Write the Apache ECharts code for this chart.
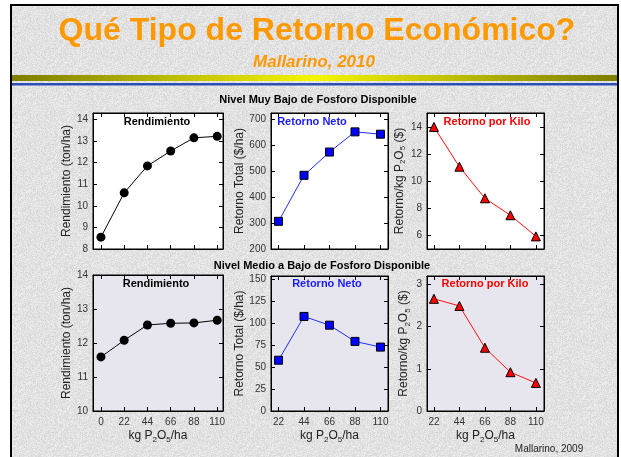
<!DOCTYPE html>
<html>
<head>
<meta charset="utf-8">
<script src="https://cdn.jsdelivr.net/npm/echarts@6/dist/echarts.min.js"></script>
<style>
  html, body { margin: 0; padding: 0; background: #ffffff; }
  #chart { width: 621px; height: 457px; }
</style>
</head>
<body>
<div id="chart"></div>
<script>
// P2O5 rates (kg/ha)
const yieldRates = [0, 22, 44, 66, 88, 110];
const returnRates = [22, 44, 66, 88, 110];

// Very low available P
const yieldVeryLow = [8.55, 10.6, 11.85, 12.54, 13.15, 13.22];
const netVeryLow = [307, 485, 575, 653, 644];
const perKgVeryLow = [14.0, 11.07, 8.74, 7.49, 5.93];

// Medium to low available P
const yieldMedLow = [11.59, 12.08, 12.53, 12.58, 12.59, 12.67];
const netMedLow = [58, 108, 98, 79.5, 73];
const perKgMedLow = [2.66, 2.49, 1.50, 0.92, 0.665];

// Tick labels
const yieldRateTicks = [0, 22, 44, 66, 88, 110];
const returnRateTicks = [22, 44, 66, 88, 110];
const yieldTicksTop = [8, 9, 10, 11, 12, 13, 14];
const netTicksTop = [200, 300, 400, 500, 600, 700];
const perKgTicksTop = [6, 8, 10, 12, 14];
const yieldTicksBottom = [10, 11, 12, 13, 14];
const netTicksBottom = [0, 25, 50, 75, 100, 125, 150];
const perKgTicksBottom = [0, 1, 2, 3];

const FONT = '"Liberation Sans", Arial, Helvetica, sans-serif';
const subRich = {
  n: { fontFamily: FONT, fontSize: 12, color: '#222', lineHeight: 14 },
  s: { fontFamily: FONT, fontSize: 8, color: '#222', lineHeight: 14, padding: [7, 0, 0, 0] }
};

// Speckled granite fill for the slide background (deterministic hash noise)
function granitePattern() {
  const size = 96;
  const c = document.createElement('canvas');
  c.width = size; c.height = size;
  const ctx = c.getContext('2d');
  const img = ctx.createImageData(size, size);
  for (let y = 0; y < size; y++) {
    for (let x = 0; x < size; x++) {
      let h = (x * 374761393 + y * 668265263) | 0;
      h = Math.imul(h ^ (h >>> 13), 1274126177);
      h = (h ^ (h >>> 16)) >>> 0;
      const v = 226 + ((h % 25) - 12);
      const k = (y * size + x) * 4;
      img.data[k] = v; img.data[k + 1] = v; img.data[k + 2] = v; img.data[k + 3] = 255;
    }
  }
  ctx.putImageData(img, 0, 0);
  return c;
}

// panel layout and scales
const panels = [
  { box: [93, 113, 130, 136], bg: '#ffffff', x: [-7.5, 115.5], xt: yieldRateTicks, xl: false,
    y: [8, 14.3], yt: yieldTicksTop, name: 'Rendimiento (ton/ha)', gap: 16 },
  { box: [271, 113, 117, 136], bg: '#ffffff', x: [15.5, 116.5], xt: returnRateTicks, xl: false,
    y: [200, 726], yt: netTicksTop, name: 'Retorno Total ($/ha)', gap: 22 },
  { box: [427, 113, 117, 136], bg: '#ffffff', x: [16, 117], xt: returnRateTicks, xl: false,
    y: [5, 15.03], yt: perKgTicksTop, name: '{n|Retorno/kg P}{s|2}{n|O}{s|5}{n| ($)}', gap: 16 },
  { box: [93, 275, 130, 136], bg: '#e7e6ee', x: [-7.5, 115.5], xt: yieldRateTicks, xl: true,
    y: [10, 14], yt: yieldTicksBottom, name: 'Rendimiento (ton/ha)', gap: 16 },
  { box: [271, 276, 117, 135], bg: '#e7e6ee', x: [15.5, 116.5], xt: returnRateTicks, xl: true,
    y: [0, 154.2], yt: netTicksBottom, name: 'Retorno Total ($/ha)', gap: 22 },
  { box: [427, 276, 117, 135], bg: '#e7e6ee', x: [16, 117], xt: returnRateTicks, xl: true,
    y: [0, 3.2], yt: perKgTicksBottom, name: '{n|Retorno/kg P}{s|2}{n|O}{s|5}{n| ($)}', gap: 16 }
];

const grids = [], xAxes = [], yAxes = [];
const tickStyle = { show: true, inside: true, length: 4, lineStyle: { color: '#000', width: 1 } };
const lineStyle = { show: true, onZero: false, lineStyle: { color: '#000', width: 1 } };
const labelStyle = { fontFamily: FONT, fontSize: 10, color: '#333' };

panels.forEach((p, i) => {
  grids.push({
    left: p.box[0], top: p.box[1], width: p.box[2], height: p.box[3],
    show: true, backgroundColor: p.bg, borderColor: '#000', borderWidth: 1
  });
  // bottom axis
  xAxes.push({
    type: 'value', gridIndex: i, position: 'bottom', min: p.x[0], max: p.x[1],
    axisLine: lineStyle, splitLine: { show: false },
    axisTick: Object.assign({ customValues: p.xt }, tickStyle),
    axisLabel: Object.assign({ show: p.xl, customValues: p.xt, margin: 6 }, labelStyle),
    name: p.xl ? '{n|kg P}{s|2}{n|O}{s|5}{n|/ha}' : '',
    nameLocation: 'middle', nameGap: 18,
    nameTextStyle: { rich: subRich }
  });
  // top mirror axis
  xAxes.push({
    type: 'value', gridIndex: i, position: 'top', min: p.x[0], max: p.x[1],
    axisLine: lineStyle, splitLine: { show: false },
    axisTick: Object.assign({ customValues: p.xt }, tickStyle),
    axisLabel: { show: false }
  });
  // left axis
  yAxes.push({
    type: 'value', gridIndex: i, position: 'left', min: p.y[0], max: p.y[1],
    axisLine: lineStyle, splitLine: { show: false },
    axisTick: Object.assign({ customValues: p.yt }, tickStyle),
    axisLabel: Object.assign({ customValues: p.yt, margin: 5 }, labelStyle),
    name: p.name, nameLocation: 'middle', nameGap: p.gap, nameRotate: 90,
    nameTextStyle: { fontFamily: FONT, fontSize: 12, color: '#222', rich: subRich }
  });
  // right mirror axis
  yAxes.push({
    type: 'value', gridIndex: i, position: 'right', min: p.y[0], max: p.y[1],
    axisLine: lineStyle, splitLine: { show: false },
    axisTick: Object.assign({ customValues: p.yt }, tickStyle),
    axisLabel: { show: false }
  });
});

function pairs(xs, ys) { return xs.map((x, k) => [x, ys[k]]); }

const blackDot = { symbol: 'circle', symbolSize: 9, itemStyle: { color: '#000' }, lineStyle: { color: '#000', width: 1 } };
const blueSquare = { symbol: 'rect', symbolSize: 8, itemStyle: { color: '#0000ff', borderColor: '#000', borderWidth: 1 }, lineStyle: { color: '#2030ff', width: 1 } };
const redTriangle = { symbol: 'triangle', symbolSize: 9, itemStyle: { color: '#ff0000', borderColor: '#000', borderWidth: 1 }, lineStyle: { color: '#ff1010', width: 1 } };

function line(idx, data, style) {
  return Object.assign({
    type: 'line', xAxisIndex: idx * 2, yAxisIndex: idx * 2, data: data,
    showAllSymbol: true, animation: false, z: 3
  }, style);
}

const series = [
  line(0, pairs(yieldRates, yieldVeryLow), blackDot),
  line(1, pairs(returnRates, netVeryLow), blueSquare),
  line(2, pairs(returnRates, perKgVeryLow), redTriangle),
  line(3, pairs(yieldRates, yieldMedLow), blackDot),
  line(4, pairs(returnRates, netMedLow), blueSquare),
  line(5, pairs(returnRates, perKgMedLow), redTriangle)
];

function label(text, x, y, size, color, extra) {
  return {
    type: 'text', x: x, y: y, z: 10,
    style: Object.assign({
      text: text, fill: color, align: 'center', verticalAlign: 'middle',
      font: 'bold ' + size + 'px ' + FONT
    }, extra || {})
  };
}

const graphics = [
  // slide frame
  { type: 'rect', shape: { x: 11, y: 5, width: 607, height: 460 }, z: -10,
    style: { fill: { image: granitePattern(), repeat: 'repeat' }, stroke: '#000', lineWidth: 2 } },
  // header rule
  { type: 'rect', shape: { x: 12, y: 75, width: 605, height: 6 }, z: -5,
    style: { fill: new echarts.graphic.LinearGradient(0, 0, 1, 0, [
      { offset: 0, color: '#7d7d00' }, { offset: 0.5, color: '#f5f500' }, { offset: 1, color: '#7d7d00' }
    ]) } },
  { type: 'rect', shape: { x: 12, y: 83, width: 605, height: 2.5 }, z: -5,
    style: { fill: '#2a4fb5' } },
  label('Qué Tipo de Retorno Económico?', 317, 31, 32, '#ff9900'),
  label('Mallarino, 2010', 314, 62, 17, '#ff9900', { font: 'italic bold 17px ' + FONT }),
  label('Nivel Muy Bajo de Fosforo Disponible', 318, 100, 11, '#000'),
  label('Nivel Medio a Bajo de Fosforo Disponible', 322, 266, 11, '#000'),
  label('Rendimiento', 157, 122, 11, '#000'),
  label('Retorno Neto', 312, 122, 11, '#1a1aff'),
  label('Retorno por Kilo', 487, 122, 11, '#ff0000'),
  label('Rendimiento', 156, 284, 11, '#000'),
  label('Retorno Neto', 327, 284, 11, '#1a1aff'),
  label('Retorno por Kilo', 485, 284, 11, '#ff0000'),
  { type: 'text', x: 549, y: 449, z: 10,
    style: { text: 'Mallarino, 2009', fill: '#222', align: 'center', verticalAlign: 'middle',
      font: '10px ' + FONT } }
];

const chart = echarts.init(document.getElementById('chart'), null, { renderer: 'canvas' });
chart.setOption({
  animation: false,
  backgroundColor: '#ffffff',
  grid: grids,
  xAxis: xAxes,
  yAxis: yAxes,
  series: series,
  graphic: graphics
});
</script>
</body>
</html>
